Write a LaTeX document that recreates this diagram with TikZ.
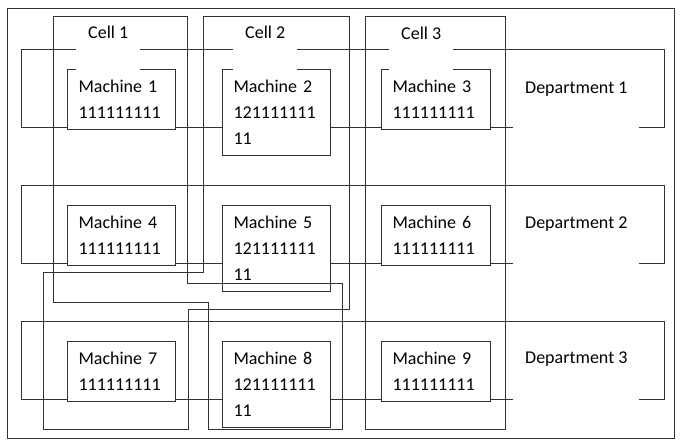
\documentclass[tikz,border=0pt]{standalone}
\usepackage{fontspec}
\setmainfont{Carlito}
\begin{document}
\begin{tikzpicture}[x=1pt,y=-1pt,
  ln/.style={draw=black!80,line width=1pt},
  machine/.style={ln,fill=white,rectangle,anchor=north west,align=left,
    inner xsep=11pt,inner ysep=0pt,font=\fontsize{18}{26}\selectfont},
  celllabel/.style={fill=white,anchor=base west,inner xsep=12pt,inner ysep=3pt,
    text depth=34pt,font=\fontsize{18}{26}\selectfont},
  deptlabel/.style={fill=white,anchor=base west,inner xsep=12pt,inner ysep=3pt,
    text depth=36pt,font=\fontsize{18}{26}\selectfont}]
\useasboundingbox (0,0) rectangle (683,447);
% outer frame
\draw[ln] (7,8) rectangle (674,438);
% departments
\draw[ln] (21,49) rectangle (664,127);
\draw[ln] (21,185) rectangle (664,263);
\draw[ln] (21,321) rectangle (664,399);
% machines
\node[machine,text width=86pt,minimum height=60pt] (m1) at (67,69) {Machine 1\\111111111};
\node[machine,text width=86pt,minimum height=86pt] (m2) at (222,69) {Machine 2\\121111111\\11};
\node[machine,text width=87pt,minimum height=60pt] (m3) at (381,69) {Machine 3\\111111111};
\node[machine,text width=86pt,minimum height=60pt] (m4) at (67,205) {Machine 4\\111111111};
\node[machine,text width=86pt,minimum height=86pt] (m5) at (222,205) {Machine 5\\121111111\\11};
\node[machine,text width=87pt,minimum height=60pt] (m6) at (381,205) {Machine 6\\111111111};
\node[machine,text width=86pt,minimum height=60pt] (m7) at (67,341) {Machine 7\\111111111};
\node[machine,text width=86pt,minimum height=86pt] (m8) at (222,341) {Machine 8\\121111111\\11};
\node[machine,text width=87pt,minimum height=60pt] (m9) at (381,341) {Machine 9\\111111111};
% cells
\draw[ln] (53,16) -- (187,16) -- (187,283) -- (342,283) -- (342,429) -- (208,429) -- (208,302) -- (53,302) -- cycle;
\draw[ln] (203,16) -- (349,16) -- (349,309) -- (188,309) -- (188,429) -- (43,429) -- (43,272) -- (203,272) -- cycle;
\draw[ln] (365,16) rectangle (505,429);
% cell labels
\node[celllabel] (c1) at (76,38) {Cell 1};
\node[celllabel] (c2) at (233,38) {Cell 2};
\node[celllabel] (c3) at (389,39) {Cell 3};
% department labels
\node[deptlabel] (d1) at (513,93) {Department 1};
\node[deptlabel] (d2) at (513,228) {Department 2};
\node[deptlabel] (d3) at (513,363) {Department 3};
\end{tikzpicture}
\end{document}
